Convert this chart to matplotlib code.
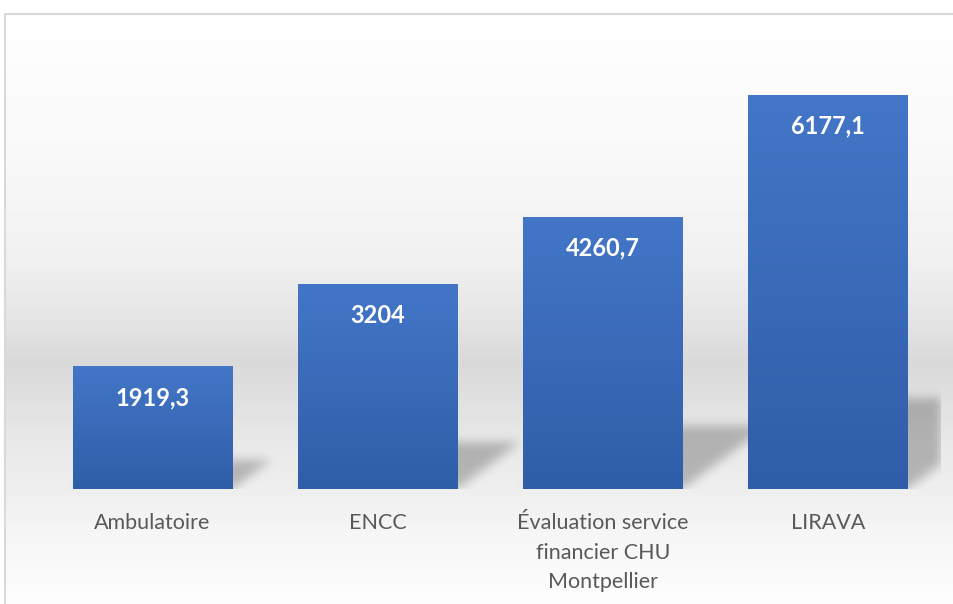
import numpy as np
import matplotlib
matplotlib.use('Agg')
import matplotlib.pyplot as plt
from matplotlib.colors import LinearSegmentedColormap

# data
categories = ['Ambulatoire', 'ENCC', 'Évaluation service\nfinancier CHU\nMontpellier', 'LIRAVA']
values = [1919.3, 3204, 4260.7, 6177.1]
value_labels = ['1919,3', '3204', '4260,7', '6177,1']

W, H = 954, 604
fig = plt.figure(figsize=(W / 100, H / 100), dpi=100)
fig.patch.set_facecolor('white')

# background gradient, in pixel coords
bg = fig.add_axes([0, 0, 1, 1])
bg.set_xlim(0, W)
bg.set_ylim(H, 0)
bg.axis('off')
stops_y = [13, 150, 260, 320, 360, 400, 440, 489, 530, 604]
stops_v = [254, 249, 240, 228, 217, 224, 232, 238, 245, 253]
ys = np.arange(13, H)
col = np.interp(ys, stops_y, stops_v) / 255
col = np.repeat(col[:, None], 8, axis=1)
bg.imshow(col, cmap='gray', vmin=0, vmax=1, extent=[5, W, H, 13],
          aspect='auto', interpolation='nearest')
bg.plot([5.5, 5.5], [H, 13.5], color='#d9d9d9', lw=1.5)
bg.plot([5.5, W], [13.5, 13.5], color='#d9d9d9', lw=1.5)

# main axes
ymax = 7000
ax = fig.add_axes([40 / W, (H - 489) / H, 901 / W, (489 - 42) / H])
ax.set_facecolor('none')
x = np.arange(len(values))
bars = ax.bar(x, values, width=0.71, color='#3a6abb', zorder=3)

# gradient fill on bars
bar_cmap = LinearSegmentedColormap.from_list('barg', ['#2f5ea8', '#4476c8'])
grad = np.repeat(np.linspace(0, 1, 256)[:, None], 4, axis=1)
for b in bars:
    x0, w, h = b.get_x(), b.get_width(), b.get_height()
    im = ax.imshow(grad, cmap=bar_cmap, origin='lower', extent=(x0, x0 + w, 0, h),
                   aspect='auto', zorder=4, interpolation='bilinear')
    im.set_clip_path(b)
ax.set_xlim(-0.5, 3.5)
ax.set_ylim(0, ymax)

# soft shadows behind bars
nx, ny = 901, 447
px_x, px_y = nx / 4, ny / ymax
gx = np.linspace(-0.5, 3.5, nx)
gy = np.linspace(0, ymax, ny)
XX, YY = np.meshgrid(gx, gy)
mask = np.zeros((ny, nx))
for b in bars:
    x0, w, h = b.get_x(), b.get_width(), b.get_height()
    sh = 0.23 * h
    dx = (sh * px_y / 0.75) / px_x
    t = YY / sh
    inside = (YY <= sh) & (XX >= x0 + t * dx) & (XX <= x0 + w + t * dx)
    mask[inside] = 1
k = np.exp(-0.5 * (np.arange(-15, 16) / 5.0) ** 2)
k /= k.sum()
mask = np.apply_along_axis(lambda r: np.convolve(r, k, mode='same'), 1, mask)
mask = np.apply_along_axis(lambda c: np.convolve(c, k, mode='same'), 0, mask)
rgba = np.zeros((ny, nx, 4))
rgba[..., 3] = 0.24 * mask
ax.imshow(rgba, extent=(-0.5, 3.5, 0, ymax), origin='lower', aspect='auto', zorder=1)

# value labels
for b, lab in zip(bars, value_labels):
    ax.annotate(lab, (b.get_x() + b.get_width() / 2, b.get_height()),
                xytext=(0, -22.5), textcoords='offset points', ha='center', va='center',
                color='white', fontsize=17, fontweight='bold', family='Lato', zorder=6)

ax.set_xticks(x, categories)
ax.tick_params(axis='x', length=0, pad=17, labelsize=15.5, labelcolor='#595959')
for lbl in ax.get_xticklabels():
    lbl.set_linespacing(1.62)
    lbl.set_family('Lato')
ax.set_yticks([])
for s in ax.spines.values():
    s.set_visible(False)

fig.savefig('out.png', dpi=100)
